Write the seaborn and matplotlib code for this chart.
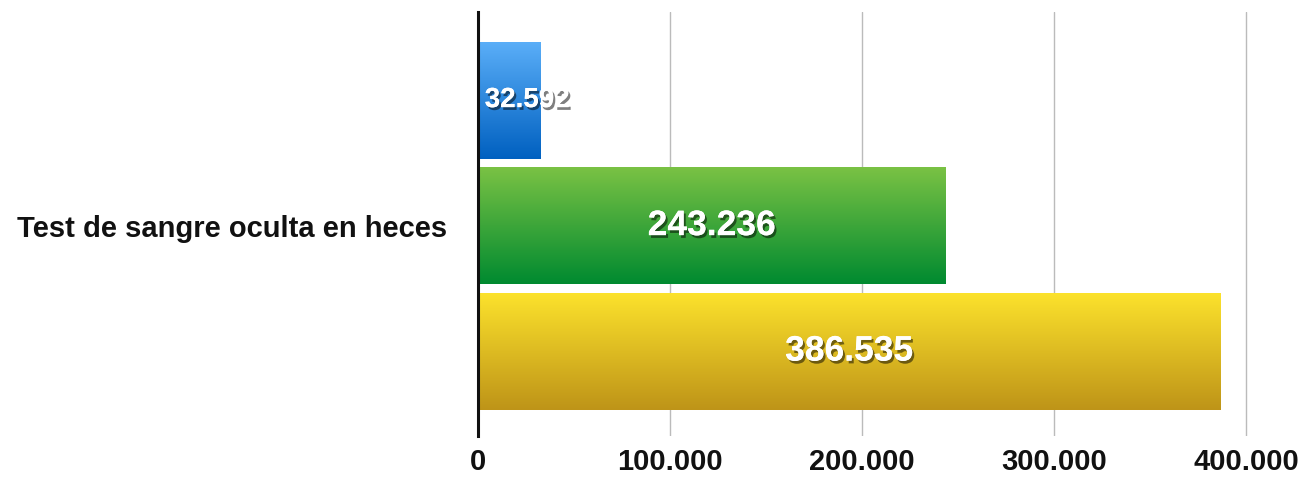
import matplotlib
matplotlib.use("Agg")
import matplotlib.pyplot as plt
import matplotlib.patheffects as pe
import numpy as np
import pandas as pd
import seaborn as sns
from matplotlib.colors import LinearSegmentedColormap

category = ["Test de sangre oculta en heces"]
series = ["Serie 1", "Serie 2", "Serie 3"]
values = [32592, 243236, 386535]
tick_values = [0, 100000, 200000, 300000, 400000]
tick_labels = ["0", "100.000", "200.000", "300.000", "400.000"]
label_texts = ["32.592", "243.236", "386.535"]

grad_top = ["#5AAEF8", "#7AC244", "#FCE22C"]
grad_bot = ["#0060C0", "#008A30", "#BE9418"]

sns.set_theme(style="white")
plt.rcParams["font.family"] = ["Liberation Sans", "DejaVu Sans"]

df = pd.DataFrame({"cat": category * 3, "serie": series, "val": values})

fig = plt.figure(figsize=(13.01, 4.78), dpi=100)
ax = fig.add_axes([478 / 1301, 1 - 436 / 478, 806.4 / 1301, 424 / 478])

sns.barplot(data=df, y="cat", x="val", hue="serie", orient="h",
            palette=grad_bot, dodge=True, width=0.888, gap=0.068,
            legend=False, ax=ax, saturation=1)

ax.set_xlim(0, 420000)
ax.set_ylim(0.4962, -0.5038)

bars = sorted(ax.patches, key=lambda p: p.get_y())
grad = np.linspace(0, 1, 256).reshape(-1, 1)
for i, p in enumerate(bars):
    x0, y0 = p.get_x(), p.get_y()
    w, h = p.get_width(), p.get_height()
    cmap = LinearSegmentedColormap.from_list("g%d" % i, [grad_top[i], grad_bot[i]])
    im = ax.imshow(grad, cmap=cmap, aspect="auto", interpolation="bicubic",
                   extent=(x0, x0 + w, y0 + h, y0), zorder=2)
    im.set_clip_path(p)
    p.set_facecolor("none")
    p.set_edgecolor("none")

shadow = [pe.withSimplePatchShadow(offset=(1.5, -2), shadow_rgbFace="black", alpha=0.5),
          pe.Normal()]
for i, p in enumerate(bars):
    cy = p.get_y() + p.get_height() / 2
    if i == 0:
        ax.text(3500, cy, label_texts[i], ha="left", va="center", color="white",
                fontsize=20, fontweight="bold", path_effects=shadow, zorder=5)
    else:
        ax.text(p.get_x() + p.get_width() / 2, cy, label_texts[i], ha="center",
                va="center", color="white", fontsize=25.5, fontweight="bold",
                path_effects=shadow, zorder=5)

ax.set_xticks(tick_values)
ax.set_xticklabels(tick_labels, fontsize=21, fontweight="bold", color="#111111")
ax.set_yticks([0])
ax.set_yticklabels(category, fontsize=21, fontweight="bold", color="#111111")
ax.tick_params(axis="both", length=0)
ax.tick_params(axis="x", pad=9)
ax.tick_params(axis="y", pad=22)
ax.set_xlabel("")
ax.set_ylabel("")

for xv in tick_values[1:]:
    ax.axvline(xv, color="#bbbbbb", lw=1.0, zorder=1)

for s in ["top", "right", "bottom"]:
    ax.spines[s].set_visible(False)
ax.spines["left"].set_color("#111111")
ax.spines["left"].set_linewidth(2.2)
ax.spines["left"].set_zorder(6)

fig.savefig("out.png", dpi=100)
